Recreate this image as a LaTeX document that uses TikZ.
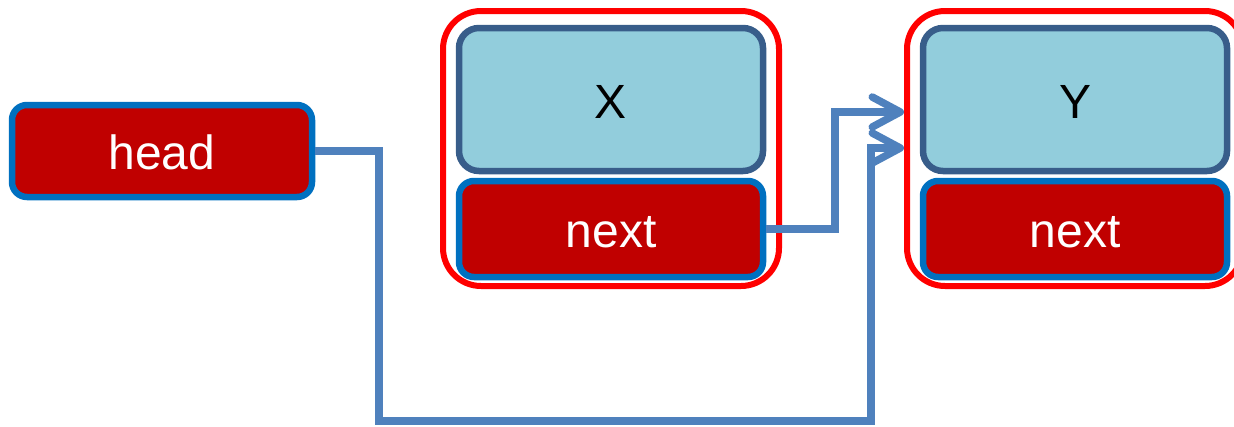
\documentclass[tikz,border=0pt]{standalone}
\usepackage{fontspec}
\setmainfont{Liberation Sans}
\usetikzlibrary{arrows.meta}
\definecolor{cellred}{HTML}{C00000}
\definecolor{cellblue}{HTML}{0070C0}
\definecolor{lightcell}{HTML}{92CDDC}
\definecolor{darkcell}{HTML}{385D8A}
\definecolor{outerred}{HTML}{FF0000}
\definecolor{connblue}{HTML}{4F81BD}
\tikzset{
  boxtext/.style={font=\fontsize{48}{52}\selectfont, text height=37pt, text depth=0pt},
  outerbox/.style={draw=outerred, line width=6pt, rounded corners=38pt, minimum width=336pt, minimum height=275pt, inner sep=0pt},
  valbox/.style={draw=darkcell, fill=lightcell, line width=6.5pt, rounded corners=20pt, minimum width=304pt, minimum height=143pt, inner sep=0pt, text=black, boxtext},
  ptrbox/.style={draw=cellblue, fill=cellred, line width=6.5pt, rounded corners=15pt, minimum width=304pt, minimum height=96pt, inner sep=0pt, text=white, boxtext},
  conn/.style={draw=connblue, line width=7.5pt, -{Straight Barb[length=28pt, width=30pt, round]}}
}
\begin{document}
\begin{tikzpicture}[x=1pt, y=-1pt]
\useasboundingbox (0,0) rectangle (1234,426);
% head
\node[ptrbox, minimum width=300pt, minimum height=92pt] (head) at (162,151) {head};
% node X
\node[outerbox] (xo) at (611,148.5) {};
\node[valbox] (xv) at (611,99.5) {X};
\node[ptrbox] (xn) at (611,229) {next};
% node Y
\node[outerbox] (yo) at (1075,148.5) {};
\node[valbox] (yv) at (1075,99.5) {Y};
\node[ptrbox] (yn) at (1075,229) {next};
% connectors
\coordinate (b1) at (379,421);
\coordinate (b2) at (871,148);
\coordinate (b3) at (835,112);
\draw[conn] (head.east) -| (b1) -| (b2) -- (yo.west |- b2);
\draw[conn] (xn.east) -| (b3) -- (yo.west |- b3);
\end{tikzpicture}
\end{document}
